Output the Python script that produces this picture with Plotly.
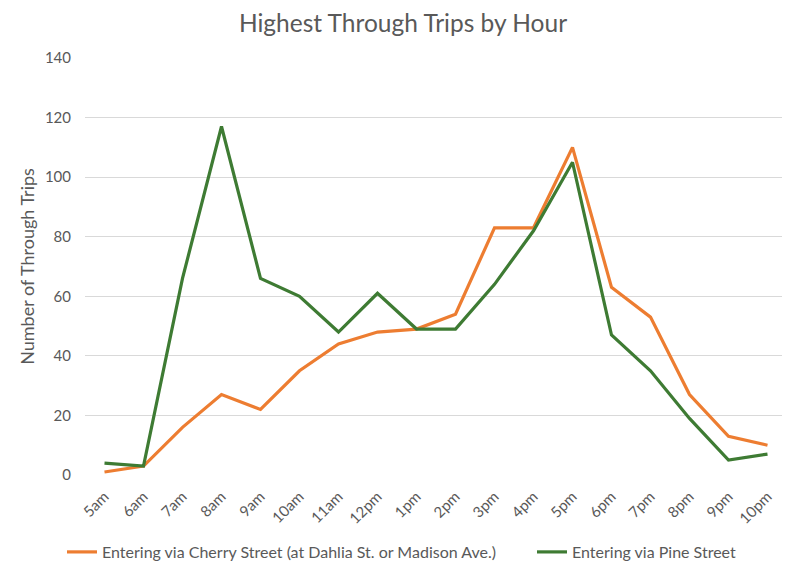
import plotly.graph_objects as go

hours = ["5am", "6am", "7am", "8am", "9am", "10am", "11am", "12pm", "1pm", "2pm",
         "3pm", "4pm", "5pm", "6pm", "7pm", "8pm", "9pm", "10pm"]
cherry = [1, 3, 16, 27, 22, 35, 44, 48, 49, 54, 83, 83, 110, 63, 53, 27, 13, 10]
pine = [4, 3, 66, 117, 66, 60, 48, 61, 49, 49, 64, 82, 105, 47, 35, 19, 5, 7]

series_names = ["Entering via Cherry Street (at Dahlia St. or Madison Ave.)",
                "Entering via Pine Street"]
y_ticks = [0, 20, 40, 60, 80, 100, 120, 140]

W, H = 782, 559  # page body has an 8px margin

fig = go.Figure()
fig.add_trace(go.Scatter(x=hours, y=cherry, mode="lines", name=series_names[0],
                         line=dict(color="#ED7D31", width=3.2), legend="legend"))
fig.add_trace(go.Scatter(x=hours, y=pine, mode="lines", name=series_names[1],
                         line=dict(color="#3E7B33", width=3.2), legend="legend2"))

font_fam = "Lato, 'Open Sans', sans-serif"
leg_common = dict(orientation="h", xref="container", yref="container",
                  xanchor="left", y=15 / H, yanchor="middle",
                  font=dict(size=16), itemwidth=30, bgcolor="rgba(0,0,0,0)")
fig.update_layout(
    width=W, height=H,
    margin=dict(l=77, r=3, t=50, b=92),
    paper_bgcolor="white", plot_bgcolor="white",
    font=dict(family=font_fam, color="#595959", size=14),
    title=dict(text="Highest Through Trips by Hour", x=(403 - 8) / W, xanchor="center",
               xref="container", yref="container",
               y=1 - 15 / H, yanchor="middle", font=dict(size=24.5, color="#595959")),
    xaxis=dict(type="category", range=[-0.5, 17.5], tickangle=-45, showgrid=False,
               showline=False, ticks="", tickfont=dict(size=15), zeroline=False,
               automargin=False, ticklabelstandoff=9),
    yaxis=dict(range=[0, 140], tickvals=y_ticks, showgrid=True, gridcolor="#D9D9D9",
               gridwidth=1, zeroline=False, showline=False, ticks="",
               tickfont=dict(size=15), ticklabelstandoff=13, automargin=False,
               title=dict(text="Number of Through Trips", font=dict(size=18), standoff=5)),
    legend=dict(x=54 / W, **leg_common),
    legend2=dict(x=524 / W, **leg_common),
    showlegend=True,
)
fig.write_html("out.html")
